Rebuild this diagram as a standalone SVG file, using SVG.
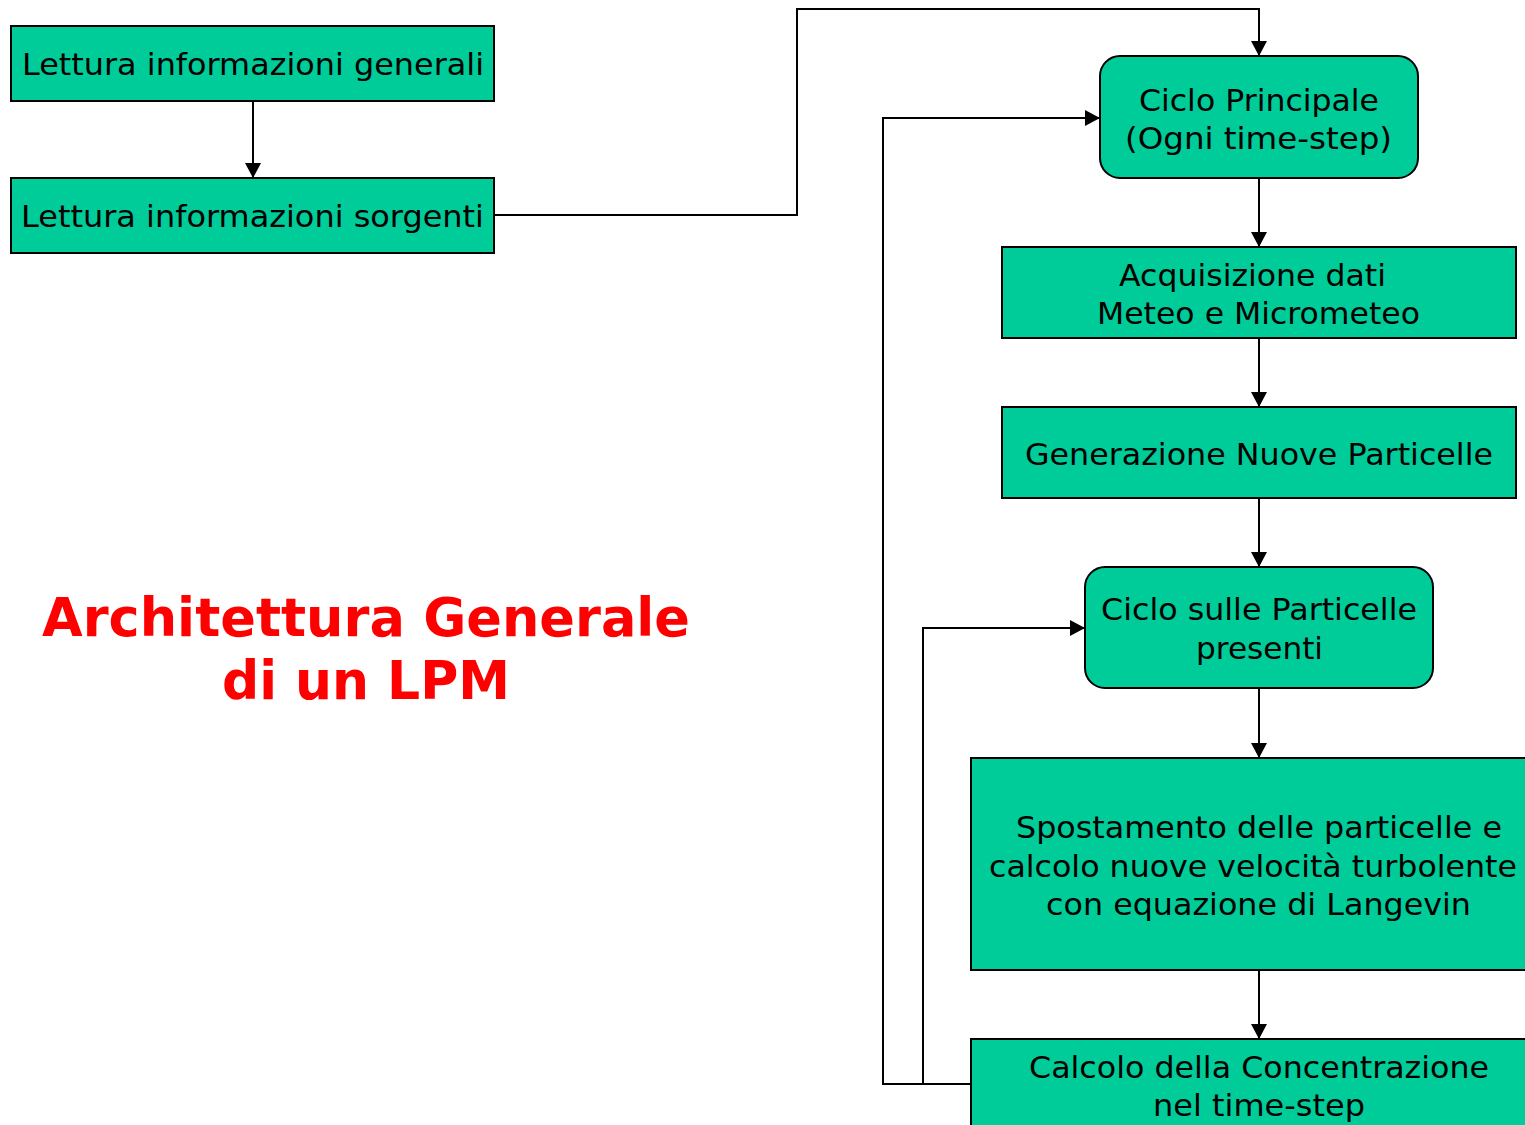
<svg xmlns="http://www.w3.org/2000/svg" width="1525" height="1125" viewBox="0 0 1525 1125">
<defs>
<style>
.box{fill:#00CC99;stroke:#000;stroke-width:2}
.t{font-family:"DejaVu Sans","Verdana",sans-serif;font-size:31px;fill:#000;text-anchor:middle}
.title{font-family:"DejaVu Sans","Verdana",sans-serif;font-size:53px;font-weight:bold;fill:#FF0000;text-anchor:middle}
.c{fill:none;stroke:#000;stroke-width:2}
</style>
<marker id="ah" markerUnits="userSpaceOnUse" markerWidth="15" markerHeight="16" viewBox="0 0 15 16" refX="15" refY="8" orient="auto">
<path d="M0,0 L15,8 L0,16 Z" fill="#000"/>
</marker>
</defs>
<rect width="1525" height="1125" fill="#fff"/>
<g id="connectors">
<path class="c" d="M253,101 V178" marker-end="url(#ah)"/>
<path class="c" d="M494,215 H797 V9 H1259 V56" marker-end="url(#ah)"/>
<path class="c" d="M1259,178 V247" marker-end="url(#ah)"/>
<path class="c" d="M1259,338 V407" marker-end="url(#ah)"/>
<path class="c" d="M1259,498 V567" marker-end="url(#ah)"/>
<path class="c" d="M1259,688 V758" marker-end="url(#ah)"/>
<path class="c" d="M1259,970 V1039" marker-end="url(#ah)"/>
<path class="c" d="M971,1084 H883 V118 H1100" marker-end="url(#ah)"/>
<path class="c" d="M923,1084 V628 H1085" marker-end="url(#ah)"/>
</g>
<g id="n1"><rect class="box" x="11" y="26" width="483" height="75"/><text class="t" x="253" y="75" textLength="462" lengthAdjust="spacingAndGlyphs">Lettura informazioni generali</text></g>
<g id="n2"><rect class="box" x="11" y="178" width="483" height="75"/><text class="t" x="252.5" y="227" textLength="463" lengthAdjust="spacingAndGlyphs">Lettura informazioni sorgenti</text></g>
<g id="n3"><rect class="box" x="1100" y="56" width="318" height="122" rx="20"/><text class="t" x="1259" y="111" textLength="240" lengthAdjust="spacingAndGlyphs">Ciclo Principale</text><text class="t" x="1258.5" y="149" textLength="267" lengthAdjust="spacingAndGlyphs">(Ogni time-step)</text></g>
<g id="n4"><rect class="box" x="1002" y="247" width="514" height="91"/><text class="t" x="1252.5" y="286" textLength="267" lengthAdjust="spacingAndGlyphs">Acquisizione dati</text><text class="t" x="1258.5" y="324" textLength="323" lengthAdjust="spacingAndGlyphs">Meteo e Micrometeo</text></g>
<g id="n5"><rect class="box" x="1002" y="407" width="514" height="91"/><text class="t" x="1259" y="465" textLength="468" lengthAdjust="spacingAndGlyphs">Generazione Nuove Particelle</text></g>
<g id="n6"><rect class="box" x="1085" y="567" width="348" height="121" rx="20"/><text class="t" x="1259" y="620" textLength="316" lengthAdjust="spacingAndGlyphs">Ciclo sulle Particelle</text><text class="t" x="1259.5" y="659" textLength="127" lengthAdjust="spacingAndGlyphs">presenti</text></g>
<g id="n7"><rect class="box" x="971" y="758" width="560" height="212"/><text class="t" x="1259" y="838" textLength="486" lengthAdjust="spacingAndGlyphs">Spostamento delle particelle e</text><text class="t" x="1253" y="877" textLength="528" lengthAdjust="spacingAndGlyphs">calcolo nuove velocità turbolente</text><text class="t" x="1258.5" y="915" textLength="425" lengthAdjust="spacingAndGlyphs">con equazione di Langevin</text></g>
<g id="n8"><rect class="box" x="971" y="1039" width="560" height="100"/><text class="t" x="1259" y="1078" textLength="460" lengthAdjust="spacingAndGlyphs">Calcolo della Concentrazione</text><text class="t" x="1259" y="1116" textLength="212" lengthAdjust="spacingAndGlyphs">nel time-step</text></g>
<g id="title"><text class="title" x="366" y="636" textLength="648" lengthAdjust="spacingAndGlyphs">Architettura Generale</text><text class="title" x="366" y="699" textLength="288" lengthAdjust="spacingAndGlyphs">di un LPM</text></g>
</svg>
